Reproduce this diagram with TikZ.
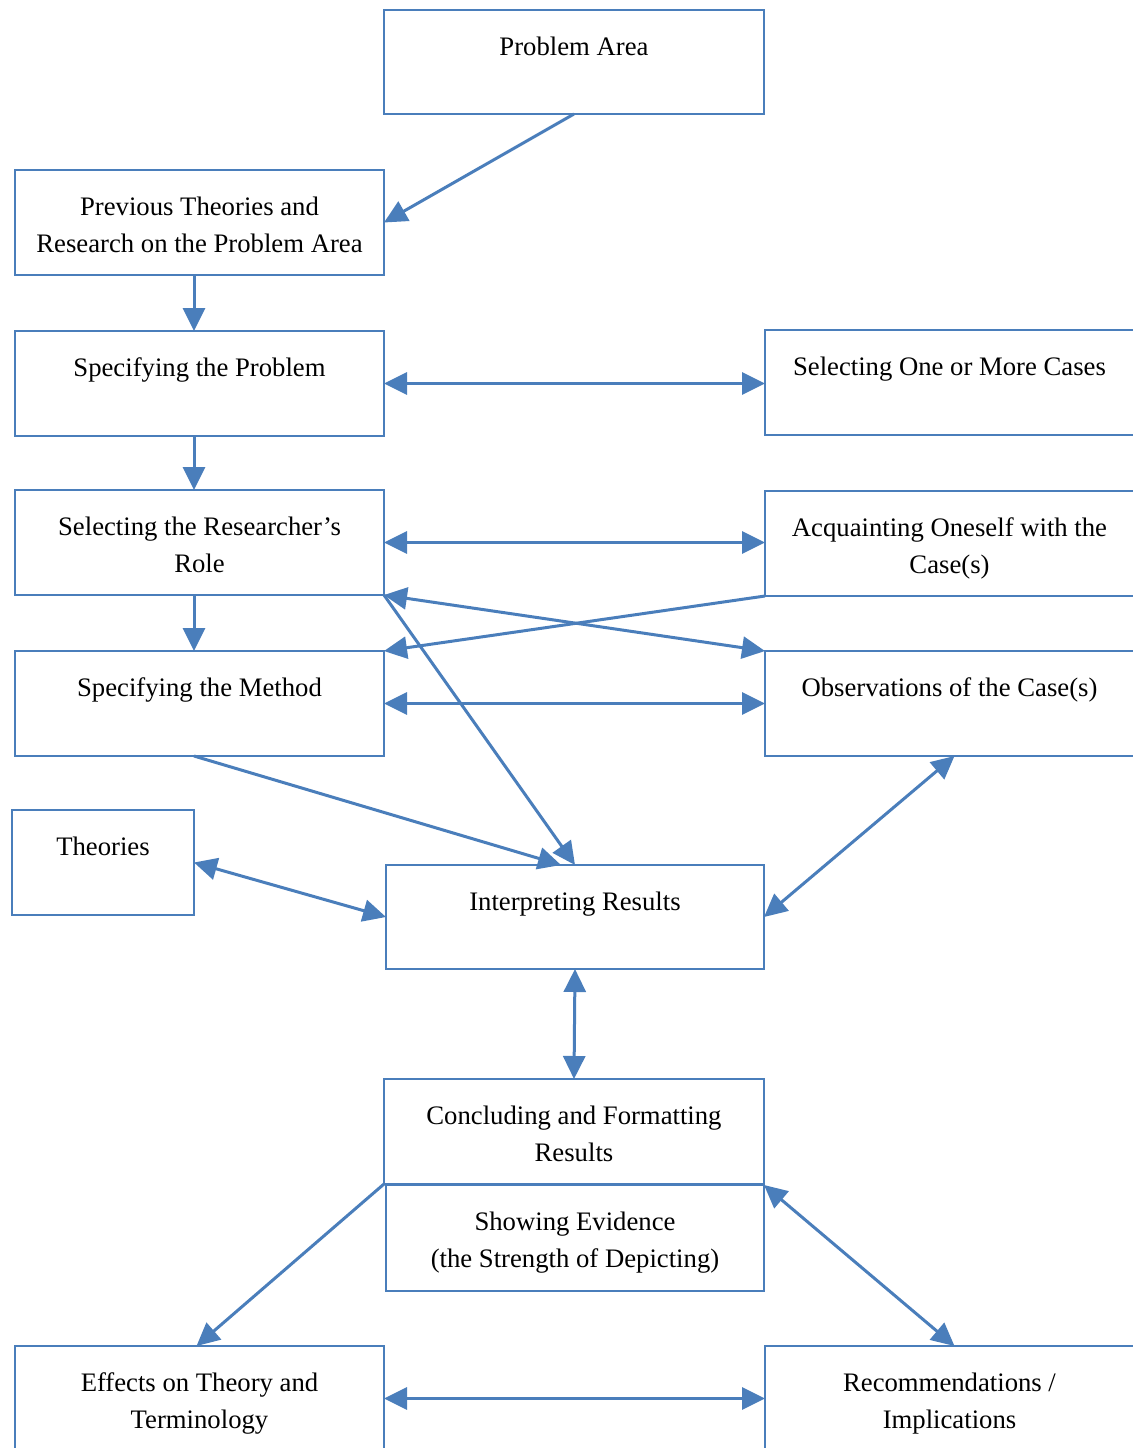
\documentclass[tikz,border=0pt]{standalone}
\usepackage{fontspec}
\setmainfont{Liberation Serif}
\usetikzlibrary{arrows.meta}
\definecolor{flowblue}{HTML}{4A7EBB}
% box content: width, height, text (top aligned, centred lines)
\newcommand{\bxt}[3]{\parbox[t][#2][t]{#1}{\centering\fontsize{13.35pt}{18.5pt}\selectfont\rule{0pt}{22.5pt}#3\par}}
\tikzset{
  flowbox/.style={draw=flowblue, line width=1pt, inner sep=0pt, outer sep=0pt, anchor=north west},
  conn/.style={draw=flowblue, line width=1.5pt, -{Triangle[length=11.5pt,width=11pt]}},
  biconn/.style={draw=flowblue, line width=1.5pt, {Triangle[length=11.5pt,width=11pt]}-{Triangle[length=11.5pt,width=11pt]}}
}
\begin{document}
\begin{tikzpicture}[x=0.5pt,y=-0.5pt]
\useasboundingbox (0,0) rectangle (1133,1448);
% boxes
\node[flowbox] (pa)   at (384,10)   {\bxt{190pt}{52pt}{Problem Area}};
\node[flowbox] (prev) at (15,170)   {\bxt{184.5pt}{52.5pt}{Previous Theories and\\Research on the Problem Area}};
\node[flowbox] (spec) at (15,331)   {\bxt{184.5pt}{52.5pt}{Specifying the Problem}};
\node[flowbox] (cases) at (765,330) {\bxt{184.5pt}{52.5pt}{Selecting One or More Cases}};
\node[flowbox] (role) at (15,490)   {\bxt{184.5pt}{52.5pt}{Selecting the Researcher’s\\Role}};
\node[flowbox] (acq)  at (765,491)  {\bxt{184.5pt}{52.5pt}{Acquainting Oneself with the\\Case(s)}};
\node[flowbox] (meth) at (15,651)   {\bxt{184.5pt}{52.5pt}{Specifying the Method}};
\node[flowbox] (obs)  at (765,651)  {\bxt{184.5pt}{52.5pt}{Observations of the Case(s)}};
\node[flowbox] (theo) at (12,810)   {\bxt{91pt}{52.5pt}{Theories}};
\node[flowbox] (interp) at (386,865) {\bxt{189pt}{52pt}{Interpreting Results}};
\node[flowbox] (conc) at (384,1079) {\bxt{190pt}{52.5pt}{Concluding and Formatting\\Results}};
\node[flowbox] (show) at (386,1185) {\bxt{189pt}{53pt}{Showing Evidence\\(the Strength of Depicting)}};
\node[flowbox] (eff)  at (15,1346)  {\bxt{184.5pt}{52.5pt}{Effects on Theory and\\Terminology}};
\node[flowbox] (rec)  at (765,1346) {\bxt{184.5pt}{52.5pt}{Recommendations /\\Implications}};
% connectors
\draw[conn] (pa.south) -- (prev.east);
\draw[conn] ([xshift=-2.75pt]prev.south) -- ([xshift=-2.75pt]spec.north);
\draw[conn] ([xshift=-2.75pt]spec.south) -- ([xshift=-2.75pt]role.north);
\draw[conn] ([xshift=-2.75pt]role.south) -- ([xshift=-2.75pt]meth.north);
\draw[biconn] (spec.east) -- (spec.east -| cases.west);
\draw[biconn] (role.east) -- (role.east -| acq.west);
\draw[biconn] (meth.east) -- (meth.east -| obs.west);
\draw[conn] (acq.south west) -- (meth.north east);
\draw[biconn] (role.south east) -- (obs.north west);
\draw[conn] (role.south east) -- (interp.north);
\draw[conn] ([xshift=-2.75pt]meth.south) -- ([xshift=-7pt]interp.north);
\draw[biconn] (theo.east) -- (interp.west);
\draw[biconn] ([xshift=2.5pt]obs.south) -- (interp.east);
\draw[biconn] (interp.south) -- (conc.north);
\draw[conn] (conc.south west) -- ([xshift=-1.5pt]eff.north);
\draw[biconn] (show.north east) -- ([xshift=2.5pt]rec.north);
\draw[biconn] (eff.east) -- (eff.east -| rec.west);
\end{tikzpicture}
\end{document}
